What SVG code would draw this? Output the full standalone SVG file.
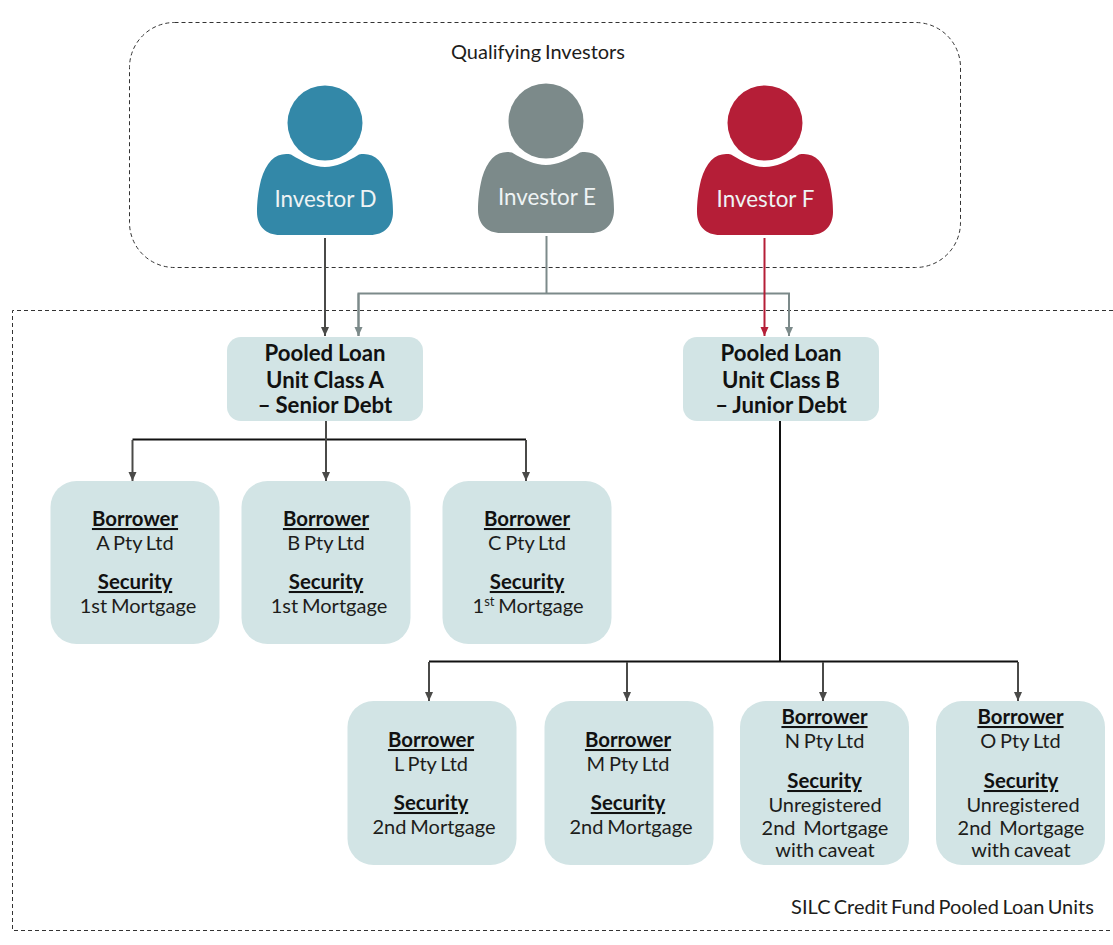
<svg xmlns="http://www.w3.org/2000/svg" width="1113" height="945" viewBox="0 0 1113 945">
<style>
text{font-family:Lato,"Liberation Sans",sans-serif;text-anchor:middle;fill:#1d1d1b}
.t{font-size:20px;word-spacing:-1.300px}
.h{font-size:20.400px;font-weight:700;text-decoration:underline;fill:#111}
.p{font-size:22.200px;font-weight:700;fill:#111;word-spacing:-0.500px}
.w{font-size:22.400px;fill:#eef3f4}
.box{fill:#d2e4e5}
.dash{fill:none;stroke:#333;stroke-width:1;stroke-dasharray:4 3}
.c{fill:none;stroke-width:2}
.k{stroke:#4a4a48}
.b{stroke:#111}
.g{stroke:#7c8a8a}
.r{stroke:#b51e37}
</style>
<defs>
<g id="person"><circle cx="325" cy="123" r="37.5"/><path d="M291 154.500C303 162 314 167 325 167C336 167 347 162 359 154.500C373 152 383 160 389 180C392 192 393 203 393 212C393 226 384 235 370 235L280 235C266 235 257 226 257 212C257 203 258 192 261 180C267 160 277 152 291 154.500Z"/></g>
<marker id="mk" markerUnits="userSpaceOnUse" markerWidth="10" markerHeight="10" refX="9" refY="5" orient="auto"><path d="M0 1L9 5L0 9Z" fill="#4a4a48"/></marker>
<marker id="mg" markerUnits="userSpaceOnUse" markerWidth="10" markerHeight="10" refX="9" refY="5" orient="auto"><path d="M0 1L9 5L0 9Z" fill="#7c8a8a"/></marker>
<marker id="mr" markerUnits="userSpaceOnUse" markerWidth="10" markerHeight="10" refX="9" refY="5" orient="auto"><path d="M0 1L9 5L0 9Z" fill="#b51e37"/></marker>
</defs>
<g id="group-qualifying"><rect class="dash" x="129.500" y="22.500" width="831" height="245" rx="45"/><text x="538" y="59" class="t">Qualifying Investors</text></g>
<g id="group-silc"><path class="dash" d="M1113 310.500H12.500V930.500H1113"/><text x="942.500" y="914" class="t" style="word-spacing:-1.800px">SILC Credit Fund Pooled Loan Units</text></g>
<g id="connectors">
<path class="c g" d="M546.500 236V293"/>
<path class="c g" d="M358.500 336V293.500H789V336" marker-end="url(#mg)"/>
<path class="c g" d="M358.500 293.500V336" marker-end="url(#mg)"/>
<path class="c k" d="M325 238V336" marker-end="url(#mk)"/>
<path class="c r" d="M764.500 238V336" marker-end="url(#mr)"/>
<path class="c b" d="M132.500 439.500H526"/>
<path class="c k" d="M132.500 440V481" marker-end="url(#mk)"/>
<path class="c k" d="M326 421V481" marker-end="url(#mk)"/>
<path class="c k" d="M526 440V481" marker-end="url(#mk)"/>
<path class="c b" d="M780 420V661.500"/>
<path class="c b" d="M429 661.500H1018"/>
<path class="c k" d="M429 662V701" marker-end="url(#mk)"/>
<path class="c k" d="M627 662V701" marker-end="url(#mk)"/>
<path class="c k" d="M823 662V701" marker-end="url(#mk)"/>
<path class="c k" d="M1018 662V701" marker-end="url(#mk)"/>
</g>
<g id="investor-d" fill="#3388a8"><use href="#person"/><text x="325.500" y="207" class="w">Investor D</text></g>
<g id="investor-e" fill="#7c8a8a"><use href="#person" x="221" y="-2"/><text x="547" y="205" class="w">Investor E</text></g>
<g id="investor-f" fill="#b51e37"><use href="#person" x="440"/><text x="765.500" y="207" class="w">Investor F</text></g>
<g id="class-a"><rect class="box" x="227" y="337" width="196" height="84" rx="14"/><text x="325" y="361" class="p">Pooled Loan</text><text x="325" y="387.500" class="p">Unit Class A</text><text x="325" y="413" class="p">– Senior Debt</text></g>
<g id="class-b"><rect class="box" x="683" y="337" width="196" height="84" rx="14"/><text x="781" y="361" class="p">Pooled Loan</text><text x="781" y="387.500" class="p">Unit Class B</text><text x="781" y="413" class="p">– Junior Debt</text></g>
<g id="borrower-a"><rect class="box" x="50.500" y="481" width="169" height="163" rx="26"/><text x="135" y="526" class="h">Borrower</text><text x="135" y="550" class="t">A Pty Ltd</text><text x="135" y="589" class="h">Security</text><text x="138" y="613" class="t">1st Mortgage</text></g>
<g id="borrower-b"><rect class="box" x="241.500" y="481" width="169" height="163" rx="26"/><text x="326" y="526" class="h">Borrower</text><text x="326" y="550" class="t">B Pty Ltd</text><text x="326" y="589" class="h">Security</text><text x="329" y="613" class="t">1st Mortgage</text></g>
<g id="borrower-c"><rect class="box" x="442.500" y="481" width="169" height="163" rx="26"/><text x="527" y="526" class="h">Borrower</text><text x="527" y="550" class="t">C Pty Ltd</text><text x="527" y="589" class="h">Security</text><text x="528" y="613" class="t">1<tspan font-size="13" dy="-7">st</tspan><tspan dy="7"> Mortgage</tspan></text></g>
<g id="borrower-l"><rect class="box" x="347.500" y="701" width="169" height="164" rx="26"/><text x="431" y="747" class="h">Borrower</text><text x="431" y="771" class="t">L Pty Ltd</text><text x="431" y="810" class="h">Security</text><text x="434" y="834" class="t">2nd Mortgage</text></g>
<g id="borrower-m"><rect class="box" x="544.500" y="701" width="169" height="164" rx="26"/><text x="628" y="747" class="h">Borrower</text><text x="628" y="771" class="t">M Pty Ltd</text><text x="628" y="810" class="h">Security</text><text x="631" y="834" class="t">2nd Mortgage</text></g>
<g id="borrower-n"><rect class="box" x="740" y="701" width="169" height="164" rx="26"/><text x="824.500" y="724" class="h">Borrower</text><text x="824.500" y="748" class="t">N Pty Ltd</text><text x="824.500" y="788" class="h">Security</text><text x="825" y="812" class="t">Unregistered</text><text x="825" y="835" class="t" xml:space="preserve">2nd  Mortgage</text><text x="825" y="857" class="t">with caveat</text></g>
<g id="borrower-o"><rect class="box" x="936" y="701" width="169" height="164" rx="26"/><text x="1020.500" y="724" class="h">Borrower</text><text x="1020.500" y="748" class="t">O Pty Ltd</text><text x="1021" y="788" class="h">Security</text><text x="1023" y="812" class="t">Unregistered</text><text x="1021" y="835" class="t" xml:space="preserve">2nd  Mortgage</text><text x="1021" y="857" class="t">with caveat</text></g>
</svg>
